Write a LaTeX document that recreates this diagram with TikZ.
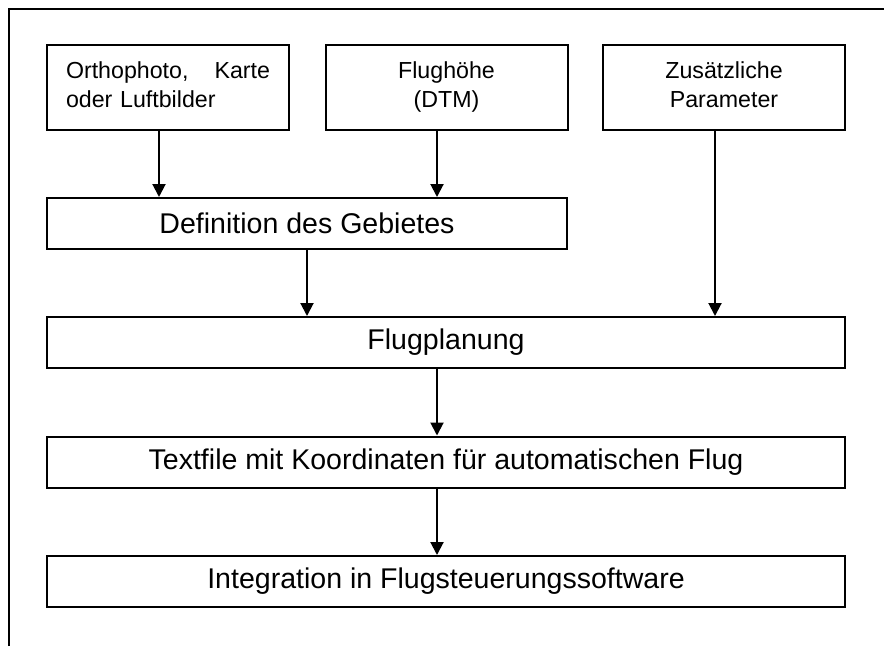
\documentclass[tikz,border=0pt]{standalone}
\usepackage{fontspec}
\setmainfont{Liberation Sans}
\usetikzlibrary{arrows.meta}

\begin{document}
\begin{tikzpicture}[>={Triangle[length=9.75pt,width=9.75pt]},x=0.75pt,y=-0.75pt,
  box/.style={draw,line width=1.5pt,inner sep=0pt,align=center},
  topbox/.style={box,text width=153pt,minimum width=181.5pt,minimum height=63.75pt,font=\fontsize{17.4}{21.75}\selectfont},
  rowbox/.style={box,minimum height=38.25pt,font=\fontsize{21.4}{25}\selectfont},
  flow/.style={->,line width=1.5pt}]
            \useasboundingbox (0,0) rectangle (884,646);

            % frame
            \draw [line width=1.2pt] (9,646) -- (9,9) -- (884,9);

            % inputs
            \node [topbox,align=left] (ortho) at (168,87.5) {\strut Orthophoto,\hfill Karte\\oder Luftbilder\strut};
            \node [topbox] (hoehe) at (446.5,87.5) {\strut Flughöhe\\(DTM)\strut};
            \node [topbox] (param) at (724,87.5) {\strut Zusätzliche\\Parameter\strut};

            % steps
            \node [rowbox,minimum width=390pt] (gebiet) at (307,223.5) {Definition des Gebietes};
            \node [rowbox,minimum width=598.5pt] (planung) at (446,342.5) {Flugplanung};
            \node [rowbox,minimum width=598.5pt] (textfile) at (446,462) {Textfile mit Koordinaten für automatischen Flug};
            \node [rowbox,minimum width=598.5pt] (integ) at (446,581.5) {Integration in Flugsteuerungssoftware};

            \draw [flow] (159,0 |- ortho.south) -- (159,0 |- gebiet.north);
            \draw [flow] (437,0 |- hoehe.south) -- (437,0 |- gebiet.north);
            \draw [flow] (715,0 |- param.south) -- (715,0 |- planung.north);
            \draw [flow] (gebiet.south) -- (gebiet.south |- planung.north);
            \draw [flow] (437,0 |- planung.south) -- (437,0 |- textfile.north);
            \draw [flow] (437,0 |- textfile.south) -- (437,0 |- integ.north);
\end{tikzpicture}
\end{document}
